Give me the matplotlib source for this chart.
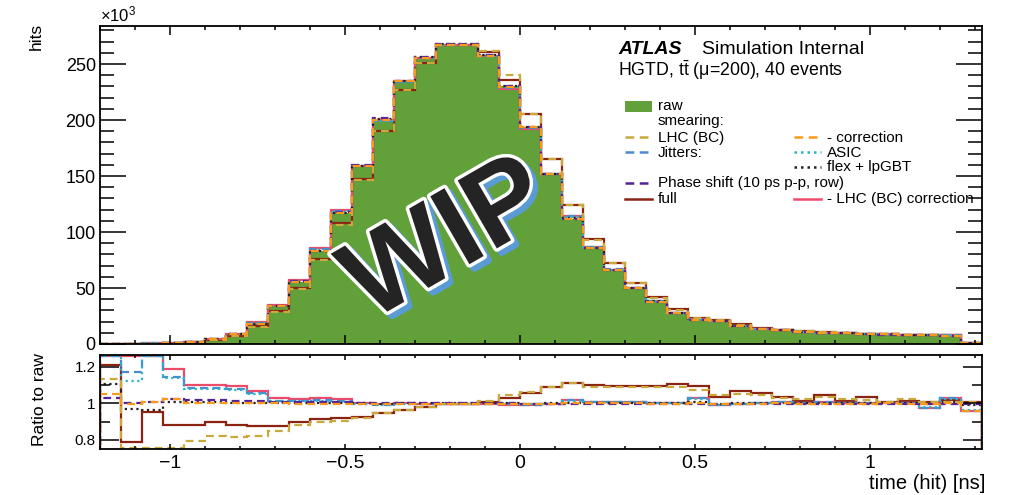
import numpy as np
import matplotlib
matplotlib.use('Agg')
import matplotlib.pyplot as plt
import matplotlib.patheffects as pe
from matplotlib.lines import Line2D
from matplotlib.patches import Rectangle
from matplotlib.ticker import MultipleLocator, FuncFormatter

'''
HGTD hit time: raw distribution and the smeared versions, with ratio to raw
'''

# 42 bins of 60 ps between -1.2 and 1.32 ns
t_min, t_max, n_bins = -1.2, 1.32, 42

# raw hits per bin, in units of 10^3
raw_hits = [0.1, 0.2, 0.35, 0.7, 1.8, 4.3, 8.5, 18, 33.5, 55.5,
            83, 117, 159, 201, 235, 256, 268, 268, 258, 230,
            194, 152, 112, 85.5, 66, 50, 38, 28, 21.5, 20.5,
            16.5, 13.2, 12.3, 11, 10.2, 9.5, 8.9, 8.5, 8.1, 7.8,
            7.5, 1.2]

# ratio to raw for every smearing
ratio_lhc = [1.133, 0.70, 0.70, 0.70, 0.796, 0.82, 0.815, 0.82, 0.85, 0.882,
             0.90, 0.905, 0.92, 0.945, 0.966, 0.98, 0.995, 0.995, 1.013, 1.046,
             1.06, 1.088, 1.11, 1.088, 1.09, 1.088, 1.088, 1.09, 1.073, 1.048,
             1.05, 1.048, 1.03, 1.025, 1.035, 1.025, 1.02, 1.01, 1.025, 1.01,
             1.005, 1.005]
ratio_corr = [1.053, 0.997, 1.005, 1.024, 1.0, 1.0, 1.0, 1.0, 1.0, 0.998,
              0.997, 0.997, 0.997, 0.997, 0.998, 0.998, 0.998, 0.998, 0.997, 0.997,
              0.997, 0.998, 1.0, 1.0, 1.0, 1.0, 0.998, 0.998, 1.0, 0.998,
              0.998, 0.998, 1.0, 0.998, 0.998, 0.998, 0.998, 1.0, 0.998, 0.995,
              1.0, 0.96]
ratio_jitter = [1.40, 1.173, 1.40, 1.142, 1.082, 1.082, 1.08, 1.055, 1.015, 1.015,
                1.02, 1.015, 0.998, 0.99, 0.995, 0.997, 0.997, 0.998, 0.997, 0.995,
                0.993, 0.997, 1.02, 1.01, 1.01, 1.006, 1.0, 1.0, 1.03, 0.99,
                0.997, 1.0, 1.01, 1.0, 1.005, 1.0, 1.0, 1.003, 1.0, 0.975,
                1.03, 0.96]
ratio_asic = [1.40, 1.124, 1.40, 1.14, 1.08, 1.08, 1.075, 1.05, 1.012, 1.012,
              1.015, 1.01, 0.998, 0.992, 0.995, 0.997, 0.998, 0.998, 0.997, 0.996,
              0.994, 0.998, 1.015, 1.008, 1.008, 1.005, 1.0, 1.0, 1.025, 0.992,
              0.998, 1.0, 1.008, 1.0, 1.004, 1.0, 1.0, 1.003, 1.0, 0.98,
              1.025, 0.965]
ratio_flex = [1.106, 0.97, 0.964, 1.005, 1.005, 1.005, 1.003, 1.003, 1.0, 1.0,
              1.0, 1.0, 1.0, 0.998, 1.0, 1.0, 1.0, 1.0, 1.0, 1.0,
              0.998, 1.0, 1.002, 1.0, 1.0, 1.0, 1.0, 1.0, 1.005, 0.998,
              1.0, 1.0, 1.002, 1.0, 1.0, 1.0, 1.0, 1.0, 1.0, 0.995,
              1.005, 0.99]
ratio_phase = [1.03, 1.0, 1.005, 1.024, 1.02, 1.02, 1.015, 1.012, 1.01, 1.008,
               1.006, 1.005, 1.003, 1.002, 1.0, 1.0, 1.0, 1.0, 1.0, 1.0,
               0.998, 0.998, 0.998, 0.998, 0.997, 0.998, 0.997, 0.998, 0.997, 0.997,
               0.997, 0.997, 0.998, 0.997, 0.997, 0.997, 0.997, 0.998, 0.997, 0.997,
               0.998, 0.995]
ratio_full = [1.21, 0.787, 0.95, 0.882, 0.882, 0.896, 0.882, 0.878, 0.878, 0.90,
              0.915, 0.92, 0.927, 0.945, 0.964, 0.982, 0.997, 0.997, 1.01, 1.027,
              1.057, 1.088, 1.11, 1.10, 1.097, 1.094, 1.097, 1.105, 1.097, 1.037,
              1.07, 1.058, 1.033, 1.015, 1.048, 1.015, 1.033, 1.01, 1.015, 1.005,
              1.02, 1.01]
ratio_full_corr = [1.40, 1.40, 1.40, 1.19, 1.10, 1.10, 1.097, 1.07, 1.027, 1.024,
                   1.03, 1.024, 1.002, 0.995, 1.0, 0.998, 0.997, 0.997, 0.998, 0.99,
                   0.99, 0.997, 1.02, 1.01, 1.008, 1.005, 1.0, 1.0, 1.03, 0.99,
                   0.997, 1.0, 1.01, 1.0, 1.005, 1.0, 1.0, 1.003, 1.0, 0.975,
                   1.03, 0.96]

W, H = 1010, 495
GREEN = '#62a03a'
DASH = (0, (3.5, 2.2))
DOT = (0, (1.0, 1.6))

# drawing order: solid ones first, dashed on top
series = [
    ('full', ratio_full, '#8b2313', '-'),
    ('- LHC (BC) correction', ratio_full_corr, '#ee4a6a', '-'),
    ('Jitters:', ratio_jitter, '#4a8bd0', DASH),
    ('ASIC', ratio_asic, '#2ab3c8', DOT),
    ('flex + lpGBT', ratio_flex, '#222222', DOT),
    ('Phase shift (10 ps p-p, row)', ratio_phase, '#55229a', DASH),
    ('LHC (BC)', ratio_lhc, '#c9a83c', DASH),
    ('- correction', ratio_corr, '#fa9a1a', DASH),
]


def fig_xy(x, y):
    return x / W, 1 - y / H


def setup_axis(ax, ylen, xlen):
    ax.tick_params(which='both', direction='in', top=True, right=True, width=1.1)
    ax.tick_params(axis='y', which='major', length=ylen[0])
    ax.tick_params(axis='y', which='minor', length=ylen[1])
    ax.tick_params(axis='x', which='major', length=xlen[0])
    ax.tick_params(axis='x', which='minor', length=xlen[1])
    for s in ax.spines.values():
        s.set_linewidth(1.3)


def fmt(v, p):
    return ('%g' % v).replace('-', '\u2212')


def main():
    plt.rcParams['font.family'] = 'Liberation Sans'
    plt.rcParams['mathtext.fontset'] = 'custom'
    plt.rcParams['mathtext.rm'] = 'Liberation Sans'
    plt.rcParams['mathtext.it'] = 'Liberation Sans:italic'

    edges = np.linspace(t_min, t_max, n_bins + 1)
    raw = np.array(raw_hits)

    fig = plt.figure(figsize=(W / 100, H / 100), dpi=100)
    ax = fig.add_axes([100 / W, 1 - 344 / H, 882 / W, 318 / H])
    ax2 = fig.add_axes([100 / W, 1 - 449 / H, 882 / W, 94 / H])

    # upper panel
    ax.stairs(raw, edges, fill=True, color=GREEN, lw=0)
    for label, ratio, color, ls in series:
        ax.stairs(raw * np.array(ratio), edges, baseline=0, color=color,
                  lw=1.6, linestyle=ls)
    ax.set_xlim(t_min, t_max)
    ax.set_ylim(0, 284)
    ax.xaxis.set_major_locator(MultipleLocator(0.5))
    ax.xaxis.set_minor_locator(MultipleLocator(0.1))
    ax.yaxis.set_major_locator(MultipleLocator(50))
    ax.yaxis.set_minor_locator(MultipleLocator(10))
    ax.yaxis.set_major_formatter(FuncFormatter(fmt))
    setup_axis(ax, (19, 10), (6.5, 3.2))
    ax.tick_params(labelbottom=False, labelsize=13, pad=3)
    ax.text(0, 1.005, '\u00d710$^{3}$', transform=ax.transAxes, fontsize=12,
            ha='left', va='bottom')

    # WIP stamp
    ax.text(0.395, 0.318, 'WIP', transform=ax.transAxes, rotation=30,
            rotation_mode='anchor', ha='center', va='center', fontsize=82,
            fontweight='bold', color='#242424',
            path_effects=[pe.Stroke(linewidth=5, foreground='#5b9bd5', offset=(3.5, -3)),
                          pe.SimplePatchShadow(offset=(3.5, -3), shadow_rgbFace='#5b9bd5', alpha=1),
                          pe.Stroke(linewidth=5, foreground='white', joinstyle='round'),
                          pe.Normal()])

    # ratio panel
    lo, hi = 0.75, 1.265
    for label, ratio, color, ls in series:
        ax2.stairs(np.clip(ratio, lo + 0.004, hi - 0.006), edges, baseline=0,
                   color=color, lw=1.6, linestyle=ls)
    ax2.set_xlim(t_min, t_max)
    ax2.set_ylim(lo, hi)
    ax2.xaxis.set_major_locator(MultipleLocator(0.5))
    ax2.xaxis.set_minor_locator(MultipleLocator(0.1))
    ax2.yaxis.set_major_locator(MultipleLocator(0.2))
    ax2.yaxis.set_minor_locator(MultipleLocator(0.1))
    ax2.xaxis.set_major_formatter(FuncFormatter(fmt))
    ax2.yaxis.set_major_formatter(FuncFormatter(fmt))
    setup_axis(ax2, (13.5, 7), (3.5, 2))
    ax2.tick_params(axis='x', labelsize=14, pad=4)
    ax2.tick_params(axis='y', labelsize=11, pad=3)

    # axis titles
    fig.text(*fig_xy(36, 23), 'hits', rotation=90, ha='center', va='top', fontsize=12.5)
    fig.text(*fig_xy(40, 400), 'Ratio to raw', rotation=90, ha='center', va='center',
             fontsize=12.5)
    fig.text(*fig_xy(985, 489), 'time (hit) [ns]', ha='right', va='baseline', fontsize=14.5)

    # labels
    fig.text(*fig_xy(618, 54), 'ATLAS', fontsize=14, fontweight='bold', style='italic',
             va='baseline')
    fig.text(*fig_xy(702, 54), 'Simulation Internal', fontsize=14, va='baseline')
    fig.text(*fig_xy(618, 76), 'HGTD, t$\\bar{\\mathrm{t}}$ (\u03bc=200), 40 events',
             fontsize=12.8, va='baseline')

    # legend, drawn by hand because the rows are irregular
    style = {label: (color, ls) for label, ratio, color, ls in series}
    fs = 11
    x, y = fig_xy(625, 112)
    fig.add_artist(Rectangle((x, y), 27 / W, 11 / H, transform=fig.transFigure,
                             color=GREEN, lw=0))
    fig.text(*fig_xy(658, 110), 'raw', fontsize=fs, va='baseline')
    fig.text(*fig_xy(658, 125.5), 'smearing:', fontsize=fs, va='baseline')
    rows = [('LHC (BC)', 0, 137.3), ('- correction', 1, 137.3),
            ('Jitters:', 0, 152.3), ('ASIC', 1, 152.3),
            ('flex + lpGBT', 1, 167),
            ('Phase shift (10 ps p-p, row)', 0, 183),
            ('full', 0, 199), ('- LHC (BC) correction', 1, 199)]
    for label, col, yr in rows:
        x0 = 625 if col == 0 else 794
        color, ls = style[label]
        fig.add_artist(Line2D([x0 / W, (x0 + 27) / W], [1 - yr / H] * 2,
                              transform=fig.transFigure, color=color, lw=1.8,
                              linestyle=ls))
        fig.text(*fig_xy(x0 + 33, yr + 4.3), label, fontsize=fs, va='baseline')

    fig.savefig('out.png', dpi=100)


if __name__ == '__main__':
    main()
